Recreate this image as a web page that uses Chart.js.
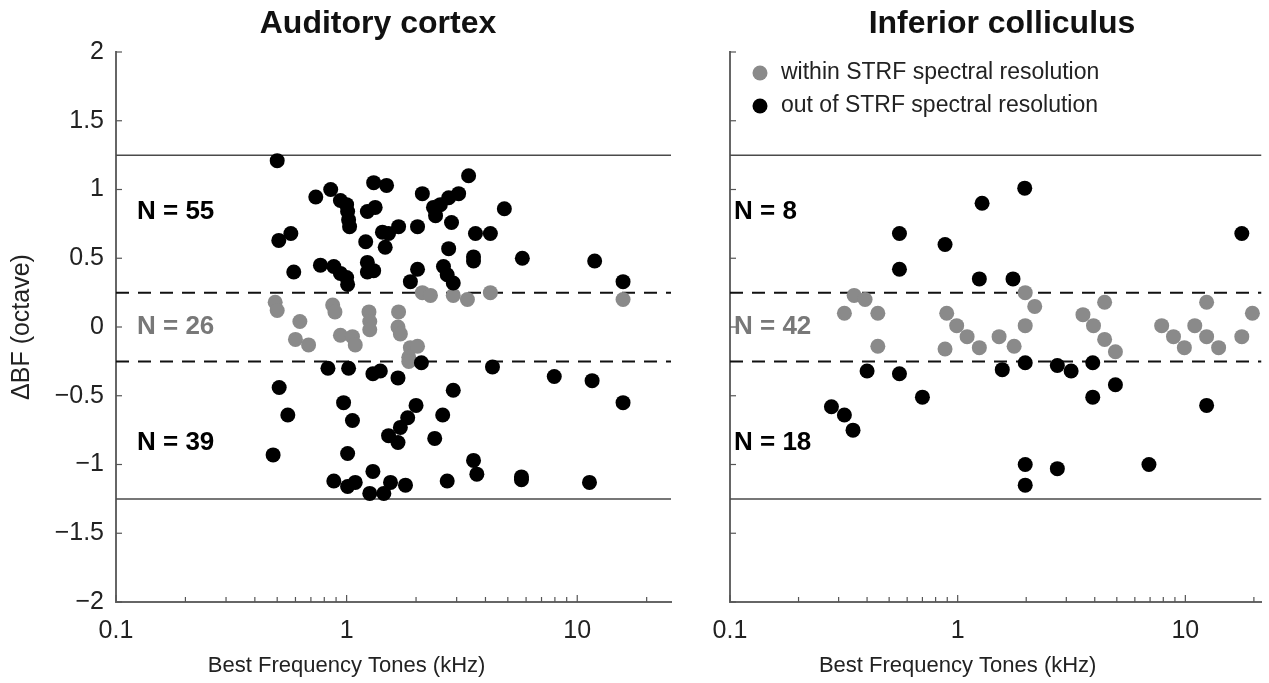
<!DOCTYPE html>
<html>
<head>
<meta charset="utf-8">
<script src="https://cdn.jsdelivr.net/npm/chart.js@4.4.1/dist/chart.umd.min.js"></script>
<style>
  html, body { margin: 0; padding: 0; background: #fff; }
  #wrap { position: relative; width: 1269px; height: 683px; overflow: hidden; }
  .panel { position: absolute; top: 0; }
  #p1 { left: 0; }
  #p2 { left: 695px; }
</style>
</head>
<body>
<div id="wrap">
  <div class="panel" id="p1"><canvas id="acChart" width="695" height="683"></canvas></div>
  <div class="panel" id="p2"><canvas id="icChart" width="574" height="683"></canvas></div>
</div>
<script>
// Auditory cortex - out of STRF spectral resolution (black)
var acOutF = [0.50, 0.735, 0.853, 0.94, 1.0, 1.01, 1.02, 1.03, 0.508, 0.573, 0.59, 0.77, 0.88, 0.94, 1.0, 1.01,
              1.31, 1.49, 1.23, 1.33, 2.13, 2.38, 2.43, 2.55, 2.77, 3.06, 3.38, 4.83, 1.21, 1.43, 1.52, 1.68, 1.47,
              2.03, 2.85, 2.77, 3.62, 4.2, 5.78, 11.9, 15.8, 1.23, 1.23, 1.31, 1.89, 2.03, 2.63, 2.73, 2.9, 3.55, 3.55,
              0.83, 1.02, 0.51, 0.556, 0.48, 0.97, 1.06, 1.01, 0.88, 1.01, 1.09, 1.30, 1.40, 1.67, 2.11, 4.29, 7.95,
              11.6, 2.9, 15.8, 2.0, 1.84, 1.71, 1.52, 1.67, 2.61, 2.41, 3.55, 3.67, 1.30, 1.26, 1.45, 1.55, 1.80,
              2.73, 5.73, 5.73, 11.3];
var acOutD = [1.21, 0.945, 1.0, 0.92, 0.89, 0.84, 0.78, 0.73, 0.63, 0.68, 0.40, 0.45, 0.44, 0.39, 0.36, 0.31,
              1.05, 1.03, 0.84, 0.87, 0.97, 0.87, 0.81, 0.89, 0.94, 0.97, 1.10, 0.86, 0.62, 0.69, 0.68, 0.73, 0.58,
              0.73, 0.76, 0.57, 0.68, 0.68, 0.50, 0.48, 0.33, 0.47, 0.40, 0.41, 0.33, 0.42, 0.44, 0.38, 0.32, 0.51, 0.48,
              -0.30, -0.30, -0.44, -0.64, -0.93, -0.55, -0.68, -0.92, -1.12, -1.16, -1.13, -0.34, -0.32, -0.37, -0.26, -0.29, -0.36,
              -0.39, -0.46, -0.55, -0.57, -0.66, -0.73, -0.79, -0.84, -0.64, -0.81, -0.97, -1.07, -1.05, -1.21, -1.21, -1.13, -1.15,
              -1.12, -1.11, -1.09, -1.13];
// Auditory cortex - within STRF spectral resolution (grey)
var acInF = [0.49, 0.50, 0.627, 0.60, 0.684, 0.87, 0.89, 0.94, 1.06, 1.09, 1.25, 1.26, 1.26,
             1.68, 1.67, 1.71, 1.89, 2.03, 1.86, 1.86, 2.13, 2.31, 2.9, 3.34, 4.2, 15.8];
var acInD = [0.18, 0.12, 0.04, -0.09, -0.13, 0.16, 0.11, -0.06, -0.07, -0.13, 0.11, 0.04, -0.02,
             0.11, 0.0, -0.05, -0.15, -0.14, -0.22, -0.25, 0.25, 0.23, 0.23, 0.20, 0.25, 0.20];

// Inferior colliculus - out of STRF spectral resolution (black)
var icOutF = [1.28, 0.555, 0.555, 0.88, 1.245, 1.97, 17.7, 1.75,
              0.40, 0.555, 0.70, 0.279, 0.318, 0.347, 1.57, 1.98, 2.74, 3.15, 3.92, 3.92, 4.93, 12.4, 1.98, 1.98, 2.74, 6.92];
var icOutD = [0.90, 0.68, 0.42, 0.60, 0.35, 1.01, 0.68, 0.35,
              -0.32, -0.34, -0.51, -0.58, -0.64, -0.75, -0.31, -0.26, -0.28, -0.32, -0.26, -0.51, -0.42, -0.57, -1.00, -1.15, -1.03, -1.00];
// Inferior colliculus - within STRF spectral resolution (grey)
var icInF = [0.318, 0.351, 0.392, 0.446, 0.446, 0.895, 0.99, 1.10, 1.245, 0.88, 1.52, 1.98, 2.18, 1.98, 1.77,
             4.42, 3.55, 3.95, 4.42, 4.93, 7.87, 8.87, 9.9, 11.0, 12.4, 12.4, 14.0, 17.7, 19.7];
var icInD = [0.10, 0.23, 0.20, 0.10, -0.14, 0.10, 0.01, -0.07, -0.15, -0.16, -0.07, 0.25, 0.15, 0.01, -0.14,
             0.18, 0.09, 0.01, -0.09, -0.18, 0.01, -0.07, -0.15, 0.01, 0.18, -0.07, -0.15, -0.07, 0.10];

// group counts (above / within / below)
var acCounts = [55, 26, 39];
var icCounts = [8, 42, 18];
var countLevels = [0.84, 0, -0.84];

var panelTitles = ['Auditory cortex', 'Inferior colliculus'];
var seriesLabels = ['within STRF spectral resolution', 'out of STRF spectral resolution'];
var xTicks = [0.1, 0.2, 0.3, 0.4, 0.5, 0.6, 0.7, 0.8, 0.9, 1, 2, 3, 4, 5, 6, 7, 8, 9, 10, 20];
var xTickLabels = { '0.1': '0.1', '1': '1', '10': '10' };
var resolutionLimit = 0.25;   // dashed
var spectralLimit = 1.25;     // solid

var FONT = "'Liberation Sans', Arial, sans-serif";
var GREY = '#8a8a8a';

function pts(xs, ys) {
    var out = [];
    for (var i = 0; i < xs.length; i++) out.push({x: xs[i], y: ys[i]});
    return out;
}

function hline(y, xmin, xmax) {
    return [{x: xmin, y: y}, {x: xmax, y: y}];
}

// titles, N labels, legend, inward tick marks, x title
var panelDecor = {
    id: 'panelDecor',
    afterDraw: function(chart, args, o) {
        var ctx = chart.ctx;
        var area = chart.chartArea;
        var xs = chart.scales.x, ys = chart.scales.y;
        ctx.save();

        // tick marks pointing inward
        ctx.strokeStyle = '#555';
        ctx.lineWidth = 1.2;
        xs.ticks.forEach(function(t) {
            var px = xs.getPixelForValue(t.value);
            var len = xTickLabels[String(t.value)] ? 7 : 5;
            ctx.beginPath();
            ctx.moveTo(px, area.bottom);
            ctx.lineTo(px, area.bottom - len);
            ctx.stroke();
        });
        ys.ticks.forEach(function(t) {
            var py = ys.getPixelForValue(t.value);
            ctx.beginPath();
            ctx.moveTo(area.left, py);
            ctx.lineTo(area.left + 6, py);
            ctx.stroke();
        });

        // panel title
        ctx.fillStyle = '#111';
        ctx.font = 'bold 32px ' + FONT;
        ctx.textAlign = 'center';
        ctx.textBaseline = 'alphabetic';
        ctx.fillText(o.title, o.titleX, 33);

        // x axis title, centred under 1 kHz
        ctx.fillStyle = '#222';
        ctx.font = '22px ' + FONT;
        ctx.fillText('Best Frequency Tones (kHz)', xs.getPixelForValue(1), 672);

        // N labels
        ctx.font = 'bold 26px ' + FONT;
        ctx.textAlign = 'left';
        ctx.textBaseline = 'middle';
        o.counts.forEach(function(n, i) {
            ctx.fillStyle = i === 1 ? '#787878' : '#000';
            ctx.fillText('N = ' + n, area.left + o.nOffset, ys.getPixelForValue(countLevels[i]));
        });

        // legend
        if (o.legend) {
            var ds = chart.data.datasets.filter(function(d) { return d.type === 'scatter'; });
            ds.forEach(function(d, i) {
                var cy = 73 + i * 33;
                ctx.fillStyle = d.backgroundColor;
                ctx.beginPath();
                ctx.arc(area.left + 30, cy, 7.5, 0, Math.PI * 2);
                ctx.fill();
                ctx.fillStyle = '#222';
                ctx.font = '23px ' + FONT;
                ctx.fillText(d.label, area.left + 51, cy);
            });
        }
        ctx.restore();
    }
};

function makePanel(id, cfg) {
    var datasets = [
        {type: 'line', data: hline(spectralLimit, 0.1, cfg.xmax), borderColor: '#4a4a4a', borderWidth: 1.5, pointRadius: 0, order: 10},
        {type: 'line', data: hline(-spectralLimit, 0.1, cfg.xmax), borderColor: '#4a4a4a', borderWidth: 1.5, pointRadius: 0, order: 10},
        {type: 'line', data: hline(resolutionLimit, 0.1, cfg.xmax), borderColor: '#111', borderWidth: 2, borderDash: [13, 9], pointRadius: 0, order: 10},
        {type: 'line', data: hline(-resolutionLimit, 0.1, cfg.xmax), borderColor: '#111', borderWidth: 2, borderDash: [13, 9], pointRadius: 0, order: 10},
        {type: 'scatter', label: seriesLabels[0], data: pts(cfg.inF, cfg.inD), backgroundColor: GREY, borderWidth: 0, pointRadius: 7.5, order: 2},
        {type: 'scatter', label: seriesLabels[1], data: pts(cfg.outF, cfg.outD), backgroundColor: '#000', borderWidth: 0, pointRadius: 7.5, order: 1}
    ];
    return new Chart(document.getElementById(id), {
        data: {datasets: datasets},
        options: {
            responsive: false,
            animation: false,
            layout: {padding: {top: 52, right: cfg.padRight, left: 0, bottom: 0}},
            plugins: {
                legend: {display: false},
                tooltip: {enabled: false},
                panelDecor: {title: cfg.title, titleX: cfg.titleX, counts: cfg.counts, nOffset: cfg.nOffset, legend: cfg.legend}
            },
            scales: {
                x: {
                    type: 'logarithmic',
                    position: 'bottom',
                    min: 0.1,
                    max: cfg.xmax,
                    grid: {display: false, drawTicks: false},
                    border: {display: true, color: '#666', width: 2},
                    afterBuildTicks: function(s) {
                        s.ticks = xTicks.map(function(v) { return {value: v}; });
                    },
                    afterFit: function(s) { s.height = 81; },
                    ticks: {
                        autoSkip: false,
                        maxRotation: 0,
                        padding: 14,
                        color: '#222',
                        font: {family: FONT, size: 25},
                        callback: function(v) { return xTickLabels[String(v)] || ''; }
                    }
                },
                y: {
                    type: 'linear',
                    min: -2,
                    max: 2,
                    grid: {display: false, drawTicks: false},
                    border: {display: true, color: '#666', width: 2},
                    afterFit: function(s) { s.width = cfg.yWidth; },
                    title: {
                        display: cfg.yTitle,
                        text: '\u0394BF (octave)',
                        color: '#222',
                        font: {family: FONT, size: 25},
                        padding: {top: 7, bottom: 0}
                    },
                    ticks: {
                        display: cfg.yTitle,
                        stepSize: 0.5,
                        padding: 12,
                        color: '#222',
                        font: {family: FONT, size: 25},
                        callback: function(v) { return String(v).replace('-', '\u2212'); }
                    }
                }
            }
        },
        plugins: [panelDecor]
    });
}

makePanel('acChart', {
    outF: acOutF, outD: acOutD, inF: acInF, inD: acInD,
    xmax: 25.5, padRight: 24, yWidth: 116, yTitle: true,
    title: panelTitles[0], titleX: 378, counts: acCounts, nOffset: 21, legend: false
});
makePanel('icChart', {
    outF: icOutF, outD: icOutD, inF: icInF, inD: icInD,
    xmax: 21.6, padRight: 0, yWidth: 35, yTitle: false,
    title: panelTitles[1], titleX: 307, counts: icCounts, nOffset: 4, legend: true
});
</script>
</body>
</html>
